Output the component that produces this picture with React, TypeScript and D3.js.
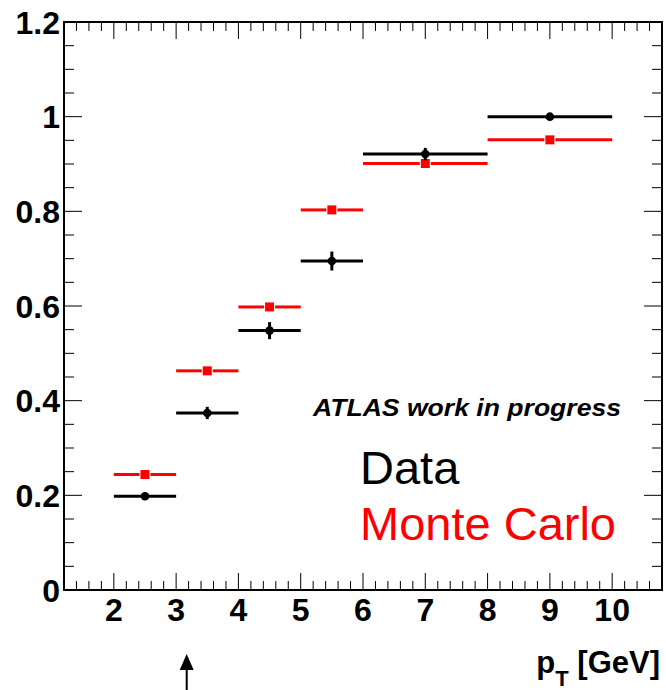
import React from "react";
import * as d3 from "d3";

const binLow = [2, 3, 4, 5, 6, 8];
const binHigh = [3, 4, 5, 6, 8, 10];
const dataValues = [0.198, 0.374, 0.548, 0.695, 0.921, 1.0];
const dataErrors = [0.008, 0.013, 0.018, 0.02, 0.013, 0.003];
const mcValues = [0.244, 0.463, 0.598, 0.803, 0.901, 0.951];
const mcErrors = [0.004, 0.004, 0.004, 0.004, 0.004, 0.004];
const xTickLabels = [2, 3, 4, 5, 6, 7, 8, 9, 10];
const yTickLabels = [0, 0.2, 0.4, 0.6, 0.8, 1, 1.2];
const arrowValue = 3.17;

const W = 666;
const H = 690;
const left = 64;
const right = 662;
const top = 22;
const bottom = 590;
const FONT = "'Liberation Sans', Arial, Helvetica, sans-serif";

export default function App() {
  const x = d3.scaleLinear().domain([1.2, 10.8]).range([left, right]);
  const y = d3.scaleLinear().domain([0, 1.2]).range([bottom, top]);

  const xMinor = d3.range(7, 55).map((i) => i * 0.2).filter((v) => Math.abs(v - Math.round(v)) > 1e-6 && v > 1.2 && v < 10.8);
  const xMajor = xTickLabels;
  const yMinor = d3.range(0, 25).map((i) => i * 0.05).filter((v) => Math.abs(v / 0.2 - Math.round(v / 0.2)) > 1e-6);
  const yMajor = yTickLabels;

  const fmt = (v: number) => (v === 0 ? "0" : v === 1 ? "1" : d3.format(".1f")(v));

  const ax = x(arrowValue);

  return (
    <svg width={W} height={H} style={{ position: "absolute", left: 0, top: 0, background: "#fff" }} fontFamily={FONT}>
      <rect x={0} y={0} width={W} height={H} fill="#fff" />
      {xMinor.map((v, i) => (
        <g key={"xm" + i} stroke="#000" strokeWidth={1}>
          <line x1={x(v)} x2={x(v)} y1={bottom} y2={bottom - 9} />
          <line x1={x(v)} x2={x(v)} y1={top} y2={top + 9} />
        </g>
      ))}
      {xMajor.map((v, i) => (
        <g key={"xM" + i} stroke="#000" strokeWidth={1}>
          <line x1={x(v)} x2={x(v)} y1={bottom} y2={bottom - 17} />
          <line x1={x(v)} x2={x(v)} y1={top} y2={top + 17} />
        </g>
      ))}
      {yMinor.map((v, i) => (
        <g key={"ym" + i} stroke="#000" strokeWidth={1}>
          <line x1={left} x2={left + 10} y1={y(v)} y2={y(v)} />
          <line x1={right} x2={right - 10} y1={y(v)} y2={y(v)} />
        </g>
      ))}
      {yMajor.map((v, i) => (
        <g key={"yM" + i} stroke="#000" strokeWidth={1}>
          <line x1={left} x2={left + 18} y1={y(v)} y2={y(v)} />
          <line x1={right} x2={right - 18} y1={y(v)} y2={y(v)} />
        </g>
      ))}
      <rect x={left} y={top} width={right - left} height={bottom - top} fill="none" stroke="#000" strokeWidth={2} />

      {xTickLabels.map((v) => (
        <text key={"xl" + v} x={x(v)} y={621} textAnchor="middle" fontSize={32} fontWeight="bold" fill="#000">
          {v}
        </text>
      ))}
      {yTickLabels.map((v) => (
        <text key={"yl" + v} x={60} y={y(v)} dy="0.36em" textAnchor="end" fontSize={32} fontWeight="bold" fill="#000">
          {fmt(v)}
        </text>
      ))}

      <text x={660} y={673} textAnchor="end" fontSize={31} fontWeight="bold" fill="#000">
        <tspan>p</tspan>
        <tspan fontSize={22} dy={13}>T</tspan>
        <tspan dy={-13}> [GeV]</tspan>
      </text>

      <line x1={ax} x2={ax} y1={668} y2={690} stroke="#000" strokeWidth={2} />
      <path d={`M${ax},654 L${ax - 7},670 L${ax + 7},670 Z`} fill="#000" />

      {mcValues.map((v, i) => {
        const cx = x((binLow[i] + binHigh[i]) / 2);
        const cy = y(v);
        const s = 9;
        return (
          <g key={"mc" + i}>
            <line x1={x(binLow[i])} x2={cx - s / 2 - 1} y1={cy} y2={cy} stroke="#ff0000" strokeWidth={3} />
            <line x1={cx + s / 2 + 1} x2={x(binHigh[i])} y1={cy} y2={cy} stroke="#ff0000" strokeWidth={3} />
            <line x1={cx} x2={cx} y1={y(v - mcErrors[i])} y2={y(v + mcErrors[i])} stroke="#ff0000" strokeWidth={3} />
            <rect x={cx - s / 2} y={cy - s / 2} width={s} height={s} fill="#ff0000" />
          </g>
        );
      })}

      {dataValues.map((v, i) => {
        const cx = x((binLow[i] + binHigh[i]) / 2);
        const cy = y(v);
        return (
          <g key={"d" + i}>
            <line x1={x(binLow[i])} x2={x(binHigh[i])} y1={cy} y2={cy} stroke="#000" strokeWidth={3} />
            <line x1={cx} x2={cx} y1={y(v - dataErrors[i])} y2={y(v + dataErrors[i])} stroke="#000" strokeWidth={3} />
            <circle cx={cx} cy={cy} r={4.3} fill="#000" />
          </g>
        );
      })}

      <text x={313} y={416} fontSize={24} fontWeight="bold" fontStyle="italic" fill="#000" textLength={308} lengthAdjust="spacingAndGlyphs">
        ATLAS work in progress
      </text>
      <text x={360} y={484} fontSize={47} fill="#000">
        Data
      </text>
      <text x={360} y={540} fontSize={47} fill="#ff0000">
        Monte Carlo
      </text>
    </svg>
  );
}
